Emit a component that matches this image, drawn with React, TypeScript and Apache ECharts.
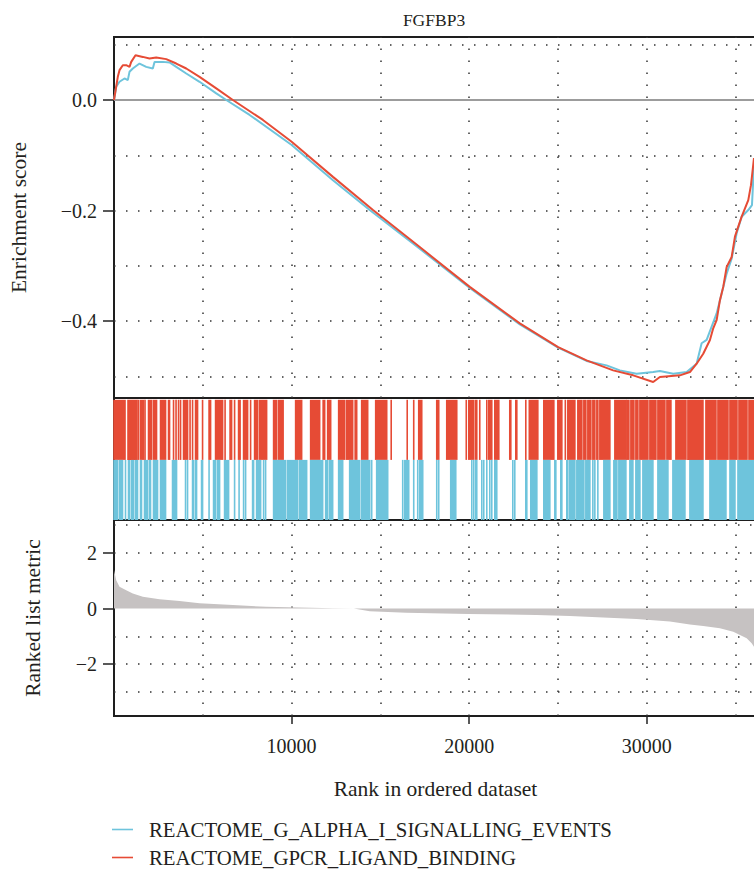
import React, { useEffect, useRef } from 'react';
import * as echarts from 'echarts';

const FONT = '"Liberation Serif", "Times New Roman", serif';
const TEXT = '#231F20';
const RED = '#E64B35';
const BLUE = '#6EC4DC';
const GRAY = '#C6C2C2';
const TITLE = 'FGFBP3';
const SERIES_NAMES = ['REACTOME_G_ALPHA_I_SIGNALLING_EVENTS', 'REACTOME_GPCR_LIGAND_BINDING'];
const RANK_MAX = 36200;

// tick labels / grid positions
const esTicks = [0, -0.2, -0.4];
const esGrid = [0.1, -0.1, -0.2, -0.3, -0.4, -0.5];
const metricTicks = [2, 0, -2];
const metricGrid = [3, 2, 1, -1, -2, -3];
const rankTicks = [10000, 20000, 30000];
const rankGrid = [5000, 10000, 15000, 20000, 25000, 30000, 35000];

// running enrichment score [rank, ES]
const esAlphaI = [
  [0, 0], [124, 0.024], [310, 0.033], [592, 0.039], [777, 0.036], [873, 0.051], [1059, 0.057],
  [1437, 0.066], [1814, 0.06], [2186, 0.057], [2282, 0.069], [2749, 0.069], [3127, 0.068],
  [3504, 0.06], [4068, 0.048], [4817, 0.033], [5758, 0.012], [6321, 0.0], [7634, -0.027],
  [9984, -0.081], [12327, -0.145], [14395, -0.199], [17212, -0.269], [20029, -0.34],
  [22846, -0.406], [25004, -0.448], [26604, -0.472], [27731, -0.48], [28480, -0.489],
  [29420, -0.495], [30356, -0.492], [30733, -0.49], [31483, -0.495], [32238, -0.492],
  [32801, -0.477], [33083, -0.44], [33365, -0.434], [33647, -0.41], [33928, -0.386],
  [34210, -0.35], [34492, -0.314], [34773, -0.287], [35055, -0.241], [35337, -0.211],
  [35709, -0.199], [35917, -0.19], [36030, -0.118],
];
const esGpcr = [
  [0, 0], [214, 0.042], [310, 0.054], [496, 0.063], [687, 0.063], [873, 0.06], [969, 0.069],
  [1211, 0.081], [1623, 0.078], [2000, 0.075], [2378, 0.077], [2941, 0.074], [3504, 0.066],
  [4068, 0.057], [4817, 0.042], [5758, 0.021], [6693, 0.0], [8383, -0.036], [9984, -0.075],
  [12327, -0.139], [14581, -0.199], [17212, -0.266], [20029, -0.338], [22846, -0.404],
  [25004, -0.447], [26604, -0.471], [28102, -0.489], [29229, -0.498], [30356, -0.51],
  [30733, -0.501], [31860, -0.498], [32424, -0.492], [32801, -0.477], [33173, -0.459],
  [33551, -0.434], [33736, -0.413], [33928, -0.398], [34114, -0.362], [34300, -0.338],
  [34492, -0.302], [34773, -0.284], [34959, -0.247], [35145, -0.229], [35337, -0.211],
  [35709, -0.181], [35861, -0.154], [36030, -0.105],
];

// hit positions, [first rank, last rank] of each run of hits
const hitsGpcr = [
  [0, 620], [789, 1296], [1380, 1380], [1493, 1662], [1747, 1747], [1944, 2113], [2225, 2394],
  [2620, 2902], [3071, 3127], [3352, 3352], [3493, 3493], [3634, 3634], [3747, 3747],
  [3916, 4141], [4282, 4282], [4423, 4423], [4592, 4704], [4986, 4986], [5352, 5437],
  [5719, 6113], [6254, 6254], [6535, 6620], [6789, 6789], [7014, 7099], [7296, 7521],
  [7690, 7690], [7916, 8085], [8197, 8592], [8986, 9155], [9268, 9521], [10226, 10564],
  [11071, 11578], [11775, 11860], [12029, 12198], [12648, 12986], [13099, 13437],
  [13578, 13663], [13944, 14282], [14733, 15353], [15606, 15606], [16508, 16508],
  [16874, 16874], [17156, 17325], [18170, 18282], [18733, 19296], [19832, 19832],
  [19973, 20254], [20367, 20423], [20592, 20592], [20987, 20987], [21099, 21268],
  [21437, 21663], [22282, 22339], [22620, 22677], [23184, 23184], [23381, 23381],
  [23466, 23860], [24198, 24761], [24987, 25212], [25409, 25409], [25550, 25945],
  [26114, 26339], [26452, 26564], [26677, 26846], [26959, 27071], [27184, 27240],
  [27353, 27916], [28198, 28818], [28874, 28987], [29100, 29269], [29381, 29494],
  [29607, 30057], [30170, 30508], [30621, 31015], [31128, 31353], [31635, 32198],
  [32311, 33156], [33325, 33888], [34001, 34565], [34677, 35072], [35184, 35635],
  [35748, 36198],
];
const hitsAlphaI = [
  [0, 197], [310, 479], [648, 648], [817, 873], [986, 1099], [1211, 1324], [1493, 1549],
  [1718, 1887], [2000, 2056], [2225, 2451], [2620, 2902], [3296, 3521], [4028, 4028],
  [4141, 4141], [4423, 4479], [4592, 4648], [4930, 4986], [5352, 5352], [5606, 5719],
  [5831, 5944], [6226, 6451], [6789, 6789], [7042, 7042], [7296, 7296], [7409, 7409],
  [7803, 7859], [8028, 8254], [8423, 8423], [8535, 8535], [8986, 9662], [9775, 10338],
  [10451, 10845], [11071, 11747], [11916, 12029], [12141, 12310], [12648, 12874],
  [13268, 13831], [13944, 14395], [14508, 14508], [14789, 15409], [16254, 16254],
  [16367, 16592], [16874, 16874], [17099, 17099], [17212, 17381], [18170, 18170],
  [18282, 18282], [18958, 19240], [20142, 20142], [20254, 20254], [20367, 20423],
  [20705, 20705], [20817, 20817], [20987, 20987], [21156, 21156], [21268, 21268],
  [21437, 21549], [22452, 22452], [22564, 22564], [23184, 23240], [23466, 23804],
  [24198, 24536], [24818, 24874], [25155, 25212], [25493, 25550], [25662, 25945],
  [26057, 26452], [26564, 26790], [26959, 26959], [27071, 27071], [27240, 27240],
  [27578, 27916], [28141, 28311], [28423, 28818], [29043, 29212], [29381, 29607],
  [29776, 30339], [30621, 31184], [31465, 32142], [32423, 33156], [33550, 34451],
  [34677, 34958], [35128, 36198],
];

// ranked list metric [rank, value]
const rankedMetric = [
  [0, 1.38], [124, 1.02], [310, 0.78], [687, 0.66], [1059, 0.54], [1623, 0.42], [2563, 0.33],
  [3690, 0.27], [4817, 0.19], [6693, 0.13], [8575, 0.06], [10451, 0.04], [12327, 0.01],
  [13500, 0.0], [14395, -0.1], [16462, -0.15], [19963, -0.2], [23787, -0.23], [25663, -0.27],
  [27539, -0.32], [29421, -0.38], [31297, -0.47], [32424, -0.57], [33173, -0.63],
  [34114, -0.71], [34863, -0.83], [35241, -0.95], [35618, -1.07], [35900, -1.25],
  [36030, -1.37], [36200, -1.5],
];

const fmtMinus = (v: number, digits: number) =>
  (v < 0 ? '\u2212' : '') + Math.abs(v).toFixed(digits);

const dotted = { type: [1.5, 10.5] as any, color: '#333', width: 1.5 };

function gridLines(xs: number[], ys: number[], extra: any[] = []) {
  return {
    silent: true,
    symbol: ['none', 'none'],
    z: 1,
    label: { show: false },
    emphasis: { disabled: true },
    lineStyle: dotted,
    data: [...xs.map((v) => ({ xAxis: v })), ...ys.map((v) => ({ yAxis: v })), ...extra],
  };
}

function hitRenderer(color: string) {
  return (params: any, api: any) => {
    const row = api.value(2);
    const a = api.coord([api.value(0), row + 1]);
    const b = api.coord([api.value(1), row]);
    const x0 = a[0] - 0.8;
    const x1 = b[0] + 0.8;
    return {
      type: 'rect',
      shape: { x: x0, y: a[1], width: x1 - x0, height: b[1] - a[1] },
      style: { fill: color },
    };
  };
}

const axisNameStyle = { fontFamily: FONT, fontSize: 21.5, color: TEXT };
const labelStyle = { fontFamily: FONT, fontSize: 20, color: TEXT };
const tickStyle = { color: '#222', width: 1.5 };

function legendFor(name: string, top: number) {
  return {
    orient: 'vertical', left: 112, top, icon: 'rect', itemWidth: 21, itemHeight: 1.6,
    selectedMode: false, data: [name], padding: 0,
    textStyle: { fontFamily: FONT, fontSize: 20.8, color: TEXT, lineHeight: 20, padding: [0, 0, 0, 11] },
  };
}

export default function App() {
  const ref = useRef<HTMLDivElement>(null);
  useEffect(() => {
    if (!ref.current) return;
    const chart = echarts.init(ref.current, undefined, { renderer: 'svg' });
    const gridBase = { show: true, left: 114, width: 643, borderColor: '#1e1e1e', borderWidth: 2, backgroundColor: 'transparent' };
    const hiddenX = (gi: number) => ({
      type: 'value', gridIndex: gi, min: 0, max: RANK_MAX,
      axisLine: { show: false, onZero: false }, axisTick: { show: false }, axisLabel: { show: false }, splitLine: { show: false },
    });
    chart.setOption({
      animation: false,
      graphic: [
        {
          type: 'text', x: 434, y: 20,
          style: { text: TITLE, align: 'center', verticalAlign: 'middle', fontFamily: FONT, fontSize: 17.5, fill: TEXT },
        },
      ],
      legend: [legendFor(SERIES_NAMES[0], 819), legendFor(SERIES_NAMES[1], 847)],
      grid: [
        { ...gridBase, top: 37, height: 361 },
        { ...gridBase, top: 398, height: 122 },
        { ...gridBase, top: 520, height: 196 },
      ],
      xAxis: [
        hiddenX(0),
        hiddenX(1),
        {
          ...hiddenX(2),
          position: 'bottom',
          axisTick: { show: true, customValues: rankTicks, length: 8, lineStyle: tickStyle },
          axisLabel: { show: true, customValues: rankTicks, margin: 20, formatter: (v: number) => String(v), ...labelStyle },
          name: 'Rank in ordered dataset', nameLocation: 'middle', nameGap: 62, nameTextStyle: axisNameStyle,
        },
      ],
      yAxis: [
        {
          type: 'value', gridIndex: 0, min: -0.539, max: 0.114,
          axisLine: { show: false, onZero: false }, splitLine: { show: false },
          axisTick: { show: true, customValues: esTicks, length: 11, lineStyle: tickStyle },
          axisLabel: { show: true, customValues: esTicks, margin: 17, formatter: (v: number) => fmtMinus(v, 1), ...labelStyle },
          name: 'Enrichment score', nameLocation: 'middle', nameGap: 84, nameTextStyle: axisNameStyle,
        },
        {
          type: 'value', gridIndex: 1, min: 0, max: 2.03,
          axisLine: { show: false, onZero: false }, axisTick: { show: false }, axisLabel: { show: false }, splitLine: { show: false },
        },
        {
          type: 'value', gridIndex: 2, min: -3.86, max: 3.18,
          axisLine: { show: false, onZero: false }, splitLine: { show: false },
          axisTick: { show: true, customValues: metricTicks, length: 11, lineStyle: tickStyle },
          axisLabel: { show: true, customValues: metricTicks, margin: 17, formatter: (v: number) => fmtMinus(v, 0), ...labelStyle },
          name: 'Ranked list metric', nameLocation: 'middle', nameGap: 70, nameTextStyle: axisNameStyle,
        },
      ],
      series: [
        {
          name: SERIES_NAMES[0], type: 'line', xAxisIndex: 0, yAxisIndex: 0, data: esAlphaI,
          symbol: 'none', z: 3, lineStyle: { color: BLUE, width: 2 }, itemStyle: { color: BLUE },
          markLine: gridLines(rankGrid, esGrid, [
            { yAxis: 0, lineStyle: { type: 'solid', color: '#9c9c9c', width: 2 } },
          ]),
        },
        {
          name: SERIES_NAMES[1], type: 'line', xAxisIndex: 0, yAxisIndex: 0, data: esGpcr,
          symbol: 'none', z: 4, lineStyle: { color: RED, width: 2 }, itemStyle: { color: RED },
        },
        {
          name: 'hits GPCR', type: 'custom', xAxisIndex: 1, yAxisIndex: 1,
          data: hitsGpcr.map((h) => [h[0], h[1], 1]), encode: { x: [0, 1], y: 2 },
          renderItem: hitRenderer(RED), silent: true,
        },
        {
          name: 'hits G alpha i', type: 'custom', xAxisIndex: 1, yAxisIndex: 1,
          data: hitsAlphaI.map((h) => [h[0], h[1], 0]), encode: { x: [0, 1], y: 2 },
          renderItem: hitRenderer(BLUE), silent: true,
        },
        {
          name: 'ranked metric', type: 'line', xAxisIndex: 2, yAxisIndex: 2, data: rankedMetric,
          symbol: 'none', z: 3, lineStyle: { width: 0, color: GRAY }, itemStyle: { color: GRAY },
          areaStyle: { color: GRAY, opacity: 1 }, silent: true,
          markLine: gridLines(rankGrid, metricGrid),
        },
      ],
    });
    return () => chart.dispose();
  }, []);
  return (
    <div style={{ position: 'absolute', left: 0, top: 0, width: 754, height: 873, overflow: 'hidden', background: '#fff' }}>
      <div ref={ref} style={{ width: 770, height: 873 }} />
    </div>
  );
}
